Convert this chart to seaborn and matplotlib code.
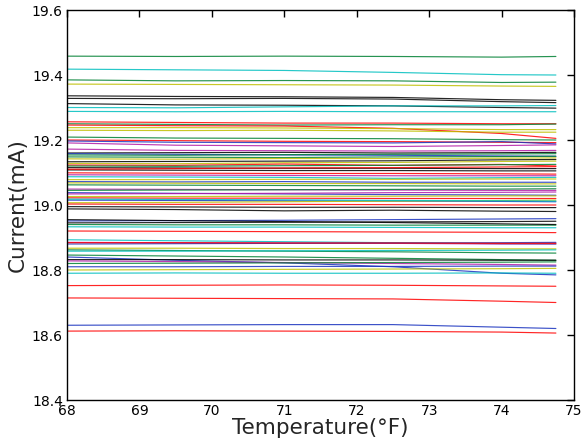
import numpy as np
import pandas as pd
import matplotlib
matplotlib.use("Agg")
import matplotlib.pyplot as plt
import seaborn as sns

# x positions where values were read
temps = [68.0, 69.5, 71.0, 72.5, 74.0, 74.75]

line_colors = [
    "g", "c", "g", "y", "k", "k", "k", "c", "c", "r",
    "g", "r", "y", "y", "g", "r", "b", "m", "m", "k",
    "b", "g", "g", "y", "k", "y", "r", "g", "k", "k",
    "r", "m", "c", "b", "y", "g", "m", "b", "m", "y",
    "r", "b", "y", "r", "k", "k", "c", "g", "y", "r",
    "b", "k", "g", "c", "k", "r", "c", "m", "b", "r",
    "y", "g", "c", "g", "b", "k", "m", "g", "b", "y",
    "c", "r", "r", "b", "r",
]

currents = [
    [19.458, 19.457, 19.458, 19.457, 19.455, 19.457],
    [19.418, 19.416, 19.414, 19.408, 19.401, 19.400],
    [19.385, 19.382, 19.383, 19.382, 19.377, 19.378],
    [19.372, 19.371, 19.370, 19.369, 19.366, 19.365],
    [19.336, 19.334, 19.333, 19.331, 19.324, 19.322],
    [19.328, 19.327, 19.328, 19.326, 19.318, 19.315],
    [19.312, 19.308, 19.307, 19.305, 19.300, 19.298],
    [19.300, 19.299, 19.302, 19.305, 19.305, 19.306],
    [19.288, 19.287, 19.288, 19.287, 19.287, 19.287],
    [19.256, 19.254, 19.252, 19.252, 19.250, 19.250],
    [19.250, 19.248, 19.246, 19.247, 19.247, 19.249],
    [19.246, 19.244, 19.243, 19.236, 19.220, 19.205],
    [19.238, 19.238, 19.237, 19.235, 19.232, 19.232],
    [19.230, 19.229, 19.230, 19.228, 19.224, 19.224],
    [19.209, 19.206, 19.205, 19.204, 19.201, 19.200],
    [19.200, 19.198, 19.196, 19.195, 19.193, 19.192],
    [19.197, 19.193, 19.192, 19.191, 19.195, 19.188],
    [19.191, 19.184, 19.182, 19.180, 19.183, 19.185],
    [19.172, 19.168, 19.167, 19.166, 19.167, 19.168],
    [19.160, 19.161, 19.162, 19.160, 19.161, 19.162],
    [19.158, 19.156, 19.154, 19.153, 19.151, 19.150],
    [19.154, 19.153, 19.155, 19.156, 19.157, 19.158],
    [19.148, 19.147, 19.146, 19.148, 19.149, 19.150],
    [19.142, 19.141, 19.143, 19.143, 19.144, 19.145],
    [19.133, 19.134, 19.135, 19.136, 19.139, 19.140],
    [19.128, 19.127, 19.130, 19.131, 19.134, 19.135],
    [19.123, 19.122, 19.126, 19.122, 19.125, 19.120],
    [19.120, 19.119, 19.121, 19.122, 19.124, 19.125],
    [19.115, 19.114, 19.113, 19.113, 19.112, 19.112],
    [19.108, 19.107, 19.106, 19.106, 19.105, 19.105],
    [19.099, 19.098, 19.097, 19.097, 19.096, 19.095],
    [19.093, 19.092, 19.091, 19.090, 19.090, 19.090],
    [19.087, 19.086, 19.085, 19.082, 19.084, 19.085],
    [19.072, 19.071, 19.072, 19.070, 19.070, 19.070],
    [19.068, 19.067, 19.066, 19.066, 19.065, 19.065],
    [19.062, 19.061, 19.060, 19.059, 19.058, 19.058],
    [19.049, 19.048, 19.047, 19.046, 19.045, 19.045],
    [19.038, 19.036, 19.034, 19.032, 19.031, 19.030],
    [19.034, 19.035, 19.036, 19.038, 19.039, 19.040],
    [19.026, 19.026, 19.027, 19.027, 19.028, 19.028],
    [19.022, 19.021, 19.021, 19.020, 19.020, 19.020],
    [19.015, 19.014, 19.013, 19.012, 19.011, 19.010],
    [19.007, 19.008, 19.010, 19.012, 19.014, 19.015],
    [19.003, 19.002, 19.002, 19.001, 19.000, 19.000],
    [18.995, 18.994, 18.993, 18.993, 18.992, 18.992],
    [18.988, 18.986, 18.982, 18.984, 18.981, 18.980],
    [19.018, 19.017, 19.016, 19.014, 19.013, 19.012],
    [19.045, 19.046, 19.047, 19.048, 19.049, 19.050],
    [19.078, 19.078, 19.079, 19.079, 19.080, 19.080],
    [19.110, 19.112, 19.114, 19.115, 19.117, 19.118],
    [18.951, 18.952, 18.953, 18.955, 18.957, 18.958],
    [18.945, 18.946, 18.947, 18.948, 18.949, 18.950],
    [18.940, 18.939, 18.939, 18.938, 18.938, 18.938],
    [18.933, 18.932, 18.932, 18.931, 18.930, 18.930],
    [18.955, 18.952, 18.949, 18.946, 18.942, 18.940],
    [18.920, 18.919, 18.918, 18.917, 18.916, 18.915],
    [18.893, 18.890, 18.887, 18.884, 18.881, 18.880],
    [18.885, 18.884, 18.883, 18.882, 18.880, 18.880],
    [18.880, 18.881, 18.882, 18.883, 18.884, 18.885],
    [18.884, 18.884, 18.883, 18.883, 18.882, 18.882],
    [18.867, 18.867, 18.866, 18.866, 18.865, 18.865],
    [18.862, 18.860, 18.858, 18.856, 18.853, 18.852],
    [18.858, 18.858, 18.859, 18.860, 18.861, 18.862],
    [18.846, 18.843, 18.840, 18.836, 18.832, 18.830],
    [18.840, 18.830, 18.822, 18.810, 18.790, 18.785],
    [18.832, 18.832, 18.831, 18.831, 18.830, 18.830],
    [18.828, 18.826, 18.823, 18.820, 18.817, 18.815],
    [18.820, 18.821, 18.822, 18.823, 18.824, 18.825],
    [18.810, 18.810, 18.811, 18.811, 18.812, 18.812],
    [18.800, 18.801, 18.802, 18.803, 18.804, 18.805],
    [18.790, 18.791, 18.790, 18.790, 18.791, 18.790],
    [18.752, 18.753, 18.754, 18.753, 18.751, 18.750],
    [18.714, 18.713, 18.712, 18.711, 18.704, 18.700],
    [18.630, 18.631, 18.632, 18.632, 18.624, 18.620],
    [18.612, 18.613, 18.612, 18.611, 18.609, 18.606],
]

x_ticks = [68, 69, 70, 71, 72, 73, 74, 75]
y_ticks = [18.4, 18.6, 18.8, 19.0, 19.2, 19.4, 19.6]

classic = {"b": (0.1, 0.2, 0.75), "g": (0.0, 0.5, 0.2), "r": (1, 0, 0), "c": (0, 0.75, 0.75),
           "m": (0.7, 0.1, 0.65), "y": (0.75, 0.75, 0), "k": (0, 0, 0)}

rows = []
for i, vals in enumerate(currents):
    for t, v in zip(temps, vals):
        rows.append({"line": i, "temp": t, "current": v})
df = pd.DataFrame(rows)
palette = {i: classic[c] for i, c in enumerate(line_colors)}

sns.set_style("white")
plt.rcParams["font.family"] = ["DejaVu Sans"]

fig = plt.figure(figsize=(5.84, 4.48), dpi=100)
ax = fig.add_axes([67 / 584, 48 / 448, 507 / 584, 390 / 448])
sns.lineplot(data=df, x="temp", y="current", hue="line", palette=palette,
             legend=False, linewidth=0.85, alpha=0.85, estimator=None, sort=False, ax=ax)

ax.set_xlim(68, 75)
ax.set_ylim(18.4, 19.6)
ax.set_xticks(x_ticks)
ax.set_yticks(y_ticks)
ax.set_xticklabels([str(t) for t in x_ticks])
ax.set_yticklabels([f"{t:.1f}" for t in y_ticks])
ax.tick_params(direction="in", length=5, width=1, top=True, right=True,
               labelsize=10, colors="black", pad=3)
for s in ax.spines.values():
    s.set_color("black")
    s.set_linewidth(1)
ax.set_xlabel("Temperature(°F)", fontsize=15.5, labelpad=0)
ax.set_ylabel("Current(mA)", fontsize=15.5, labelpad=3)

fig.savefig("out.png", dpi=100)
